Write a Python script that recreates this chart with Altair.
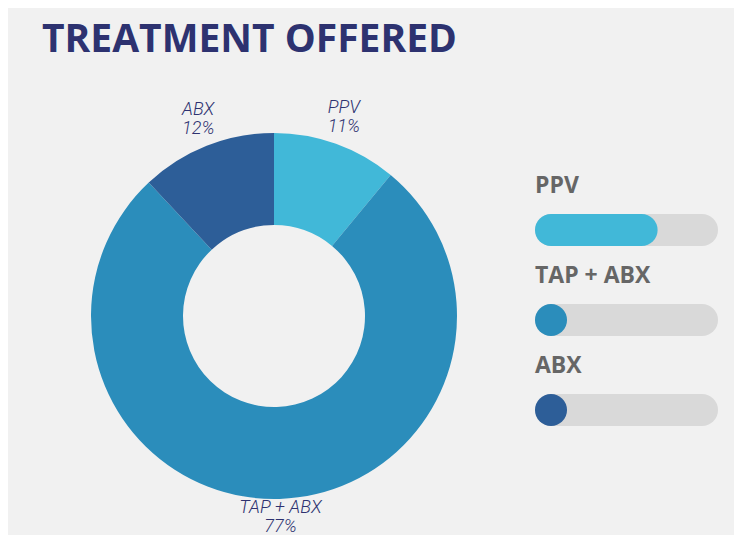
import altair as alt
import pandas as pd

# ---- data ----
categories = ["PPV", "TAP + ABX", "ABX"]
shares = [11, 77, 12]
order_idx = [0, 1, 2]
colors = ["#41b8d8", "#2b8dbb", "#2d5e98"]
fill_levels = [60, 0, 0]   # progress-bar fill in the legend panel

title_text = "TREATMENT OFFERED"

W, H = 726, 527
CX, CY = 266, 308

df = pd.DataFrame({
    "cat": categories,
    "share": shares,
    "ord": order_idx,
    "pct": [f"{s}%" for s in shares],
    "row": order_idx,
    "fill": fill_levels,
    "start": [0, 0, 0],
    "end": [100, 100, 100],
})

color_scale = alt.Scale(domain=categories, range=colors)

base = alt.Chart(df)

arcs = base.mark_arc(outerRadius=183, innerRadius=91, stroke=None).encode(
    theta=alt.Theta("share:Q", stack=True),
    order=alt.Order("ord:Q"),
    color=alt.Color("cat:N", scale=color_scale, legend=None),
    x=alt.value(CX), y=alt.value(CY),
)

lab_style = dict(radius=206, font="Roboto", fontSize=18, fontStyle="italic",
                 fontWeight=300, color="#2e3270", baseline="middle", align="center")

name_labels = base.mark_text(dy=-14, **lab_style).encode(
    theta=alt.Theta("share:Q", stack=True),
    order=alt.Order("ord:Q"),
    text="cat:N",
    x=alt.value(CX), y=alt.value(CY),
)
pct_labels = base.mark_text(dy=5, **lab_style).encode(
    theta=alt.Theta("share:Q", stack=True),
    order=alt.Order("ord:Q"),
    text="pct:N",
    x=alt.value(CX), y=alt.value(CY),
)

xs = alt.Scale(domain=[0, 100], range=[543, 694])
ys = alt.Scale(domain=[0, 2], range=[222, 402])

track = base.mark_rule(strokeWidth=32, strokeCap="round", color="#d9d9d9").encode(
    x=alt.X("start:Q", scale=xs, axis=None),
    x2="end:Q",
    y=alt.Y("row:Q", scale=ys, axis=None),
)

fill = base.mark_rule(strokeWidth=32, strokeCap="round").encode(
    x=alt.X("start:Q", scale=xs, axis=None),
    x2="fill:Q",
    y=alt.Y("row:Q", scale=ys, axis=None),
    color=alt.Color("cat:N", scale=color_scale, legend=None),
)

leg_text = base.mark_text(
    align="left", baseline="alphabetic", dx=-16, dy=-37,
    font="Open Sans", fontSize=23, fontWeight="bold", color="#666666"
).encode(
    x=alt.X("start:Q", scale=xs, axis=None),
    y=alt.Y("row:Q", scale=ys, axis=None),
    text="cat:N",
)

title = alt.Chart(pd.DataFrame({"t": [title_text]})).mark_text(
    align="left", baseline="alphabetic", font="Open Sans", fontSize=39,
    fontWeight="bold", color="#2d3270"
).encode(text="t:N", x=alt.value(34), y=alt.value(44))

chart = alt.layer(arcs, name_labels, pct_labels, track, fill, leg_text, title).properties(
    width=W, height=H, padding=0, autosize=alt.AutoSizeParams(type="none"),
    background="#f1f1f1",
).configure_view(stroke=None)

chart.save("out.html", embed_options={"renderer": "svg", "actions": False})
